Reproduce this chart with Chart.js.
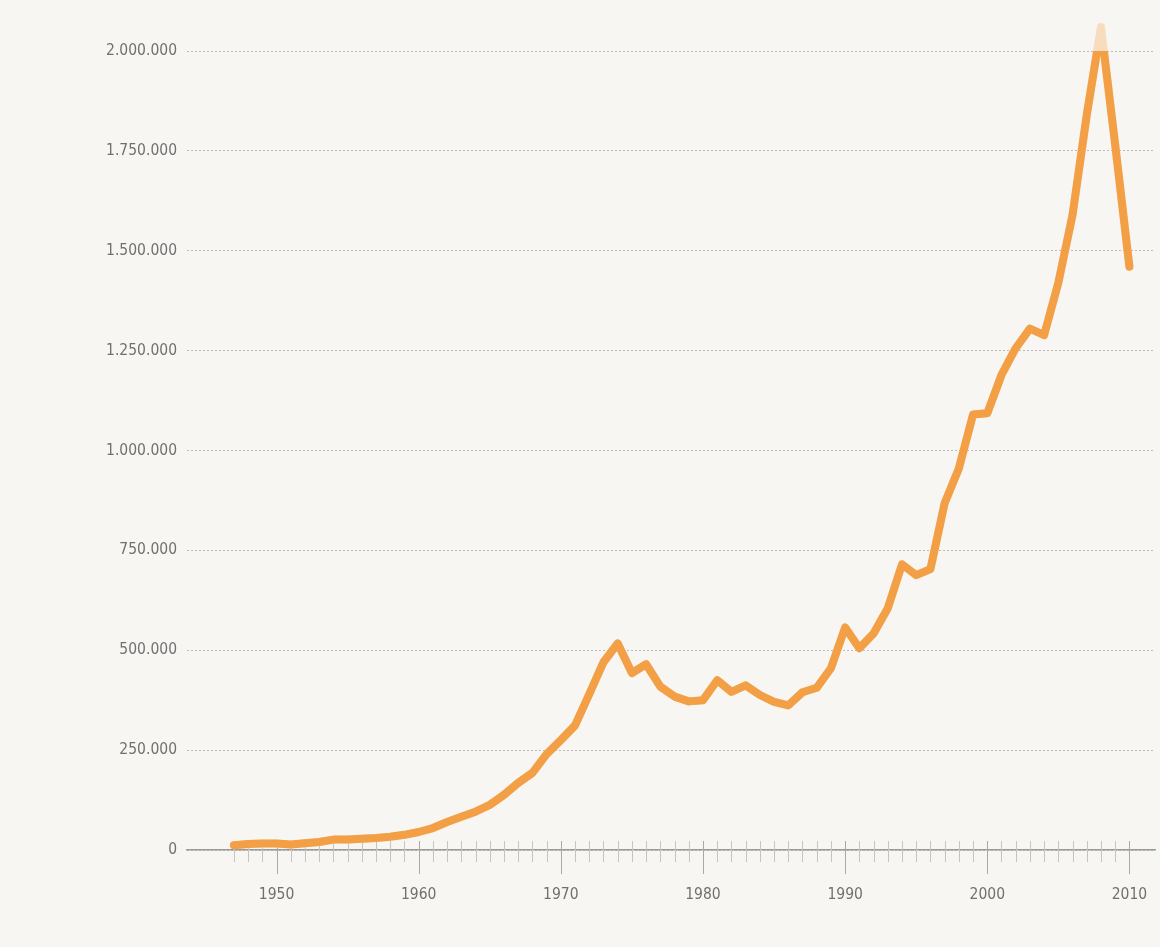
<!DOCTYPE html>
<html>
<head>
<meta charset="utf-8">
<script src="https://cdn.jsdelivr.net/npm/chart.js@4.4.1/dist/chart.umd.min.js"></script>
<style>
  html, body { margin: 0; padding: 0; background: #F8F6F3; }
  #wrap { width: 1160px; height: 947px; position: relative; }
</style>
</head>
<body>
<div id="wrap"><canvas id="c" width="1160" height="947"></canvas></div>
<script>
// ---- data ----
const years = [1947,1948,1949,1950,1951,1952,1953,1954,1955,1956,1957,1958,1959,
  1960,1961,1962,1963,1964,1965,1966,1967,1968,1969,
  1970,1971,1972,1973,1974,1975,1976,1977,1978,1979,
  1980,1981,1982,1983,1984,1985,1986,1987,1988,1989,
  1990,1991,1992,1993,1994,1995,1996,1997,1998,1999,
  2000,2001,2002,2003,2004,2005,2006,2007,2008,2009,2010];
const values = [12000,15000,16000,16000,14000,17000,20000,26000,26000,28000,30000,33000,38000,
  45000,55000,70000,83000,96000,113000,138000,168000,193000,240000,
  275000,312000,390000,470000,517000,443000,465000,409000,384000,372000,
  375000,425000,396000,412000,388000,371000,362000,395000,406000,455000,
  557000,505000,542000,605000,715000,688000,703000,868000,955000,1090000,
  1093000,1189000,1256000,1305000,1289000,1420000,1590000,1840000,2060000,1765000,1460000];
const yTicks = [0,250000,500000,750000,1000000,1250000,1500000,1750000,2000000];
const xLabelYears = [1950,1960,1970,1980,1990,2000,2010];

const fmt = v => String(v).replace(/\B(?=(\d{3})+(?!\d))/g, '.');
const FONT = "'DejaVu Sans Condensed', 'Liberation Sans Narrow', sans-serif";

const bgPlugin = {
  id: 'bg',
  beforeDraw(chart) {
    const ctx = chart.ctx;
    ctx.save();
    ctx.fillStyle = '#F8F6F3';
    ctx.fillRect(0, 0, chart.width, chart.height);
    ctx.restore();
  }
};

const yearTicks = {
  id: 'yearTicks',
  beforeDatasetsDraw(chart) {
    const xs = chart.scales.x, ys = chart.scales.y;
    const y0 = ys.getPixelForValue(0);
    const ctx = chart.ctx;
    ctx.save();
    ctx.lineWidth = 1;
    years.forEach(yr => {
      const px = Math.round(xs.getPixelForValue(yr)) + 0.5;
      const major = xLabelYears.includes(yr);
      ctx.strokeStyle = major ? '#a8a8a8' : '#c4c4c4';
      ctx.beginPath();
      ctx.moveTo(px, y0 - 9);
      ctx.lineTo(px, y0 + (major ? 24 : 12));
      ctx.stroke();
    });
    ctx.restore();
  }
};

new Chart(document.getElementById('c'), {
  type: 'line',
  data: {
    datasets: [
      {
        label: 'Wert',
        data: years.map((y, i) => ({x: y, y: values[i]})),
        borderColor: '#F29F45',
        borderWidth: 8,
        pointRadius: 0,
        tension: 0,
        borderJoinStyle: 'round',
        borderCapStyle: 'round',
        clip: 0,
        order: 1
      },
      {
        label: 'Wert (über Skala)',
        data: years.map((y, i) => ({x: y, y: values[i]})),
        borderColor: '#F7DDBD',
        borderWidth: 8,
        pointRadius: 0,
        tension: 0,
        borderJoinStyle: 'round',
        borderCapStyle: 'butt',
        clip: false,
        order: 2
      }
    ]
  },
  options: {
    responsive: false,
    animation: false,
    events: [],
    layout: { padding: { top: 51, right: 5, left: 0, bottom: 0 } },
    plugins: { legend: { display: false }, tooltip: { enabled: false } },
    scales: {
      x: {
        type: 'linear',
        min: 1943.7,
        max: 2011.8,
        afterFit(s) { s.height = 97; s.paddingRight = 0; s.paddingLeft = 0; },
        afterBuildTicks(s) { s.ticks = xLabelYears.map(v => ({value: v})); },
        grid: { display: false },
        border: { display: true, color: '#9a9a9a', width: 1.5 },
        ticks: {
          autoSkip: false,
          maxRotation: 0,
          padding: 28,
          color: '#707070',
          font: { family: FONT, size: 15.5 },
          callback: v => String(v)
        }
      },
      y: {
        min: 0,
        max: 2000000,
        afterFit(s) { s.width = 187; },
        afterBuildTicks(s) { s.ticks = yTicks.map(v => ({value: v})); },
        grid: { color: '#bdbdbd', lineWidth: 1, drawTicks: false },
        border: { display: false, dash: [2, 2] },
        ticks: {
          padding: 10,
          color: '#707070',
          font: { family: FONT, size: 15.5 },
          callback: v => fmt(v)
        }
      }
    }
  },
  plugins: [bgPlugin, yearTicks]
});
</script>
</body>
</html>
